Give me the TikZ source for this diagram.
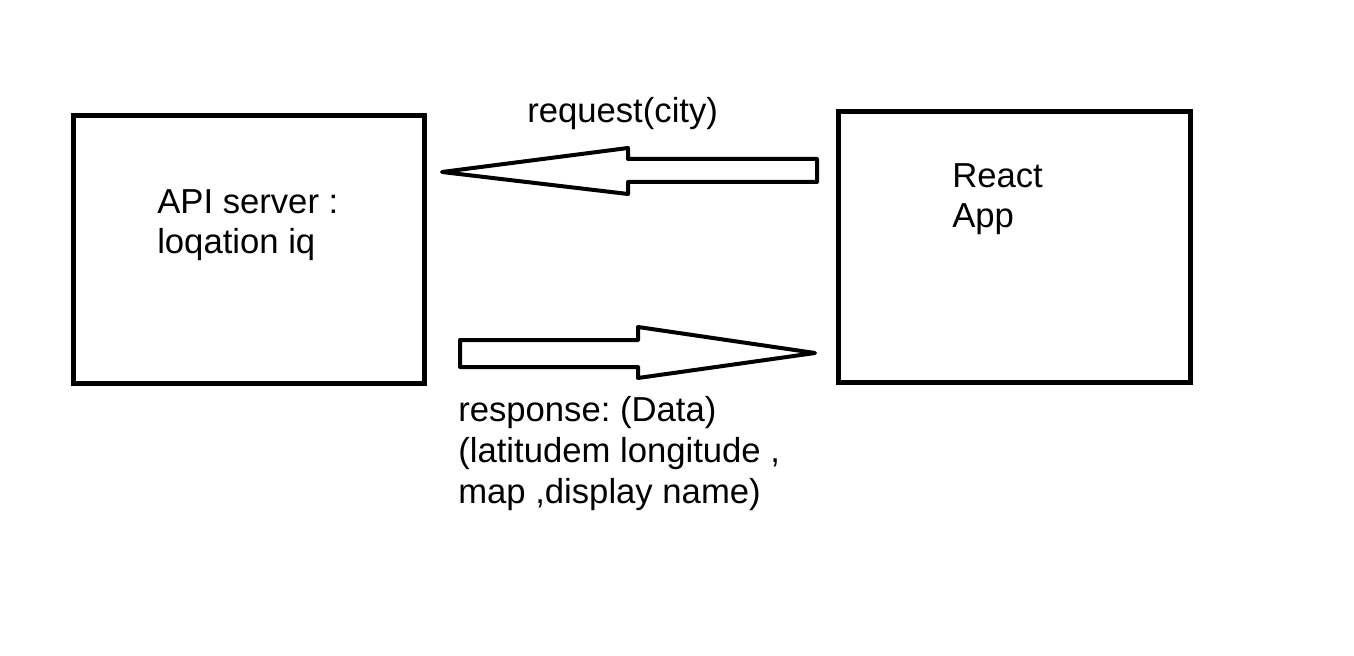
\documentclass[tikz,border=0pt]{standalone}
\usepackage{fontspec}
\setmainfont{Liberation Sans}
\frenchspacing

\begin{document}
\begin{tikzpicture}[x=0.75pt, y=-0.75pt,
  box/.style={draw, rectangle, line width=3.75pt, inner sep=0pt},
  blockarrow/.style={draw, line width=3pt, line join=round},
  label/.style={anchor=base west, align=left, inner sep=0pt, font=\fontsize{26}{30.5}\selectfont}]
\useasboundingbox (0,0) rectangle (1354,656) ;
\node(server) at (248.75, 249.5) [box, minimum width=262.9pt, minimum height=201pt] {} ; 
\node(react) at (1014, 247) [box, minimum width=264pt, minimum height=202.5pt] {} ; 
% multi-line labels sit on the baseline of their last line
\node(servername) at (157, 254) [label] {API server :\\loqation iq} ; 
\node(reactname) at (952, 228) [label] {React\\App} ; 
\node(request) at (527, 123) [label] {request(city)} ; 
\node(response) at (458, 503) [label] {response: (Data)\\(latitudem longitude ,\\map ,display name)} ; 
\coordinate(requesttip) at (442, 172) ; 
\coordinate(responsetip) at (815, 353) ; 
\draw[blockarrow] (requesttip) -- ++(186,-24) -- ++(0,11) -- ++(189,0) -- ++(0,23) -- ++(-189,0) -- ++(0,12) -- cycle ; 
\draw[blockarrow] (responsetip) -- ++(-177,-26) -- ++(0,13) -- ++(-178,0) -- ++(0,27) -- ++(178,0) -- ++(0,11) -- cycle ; 
\end{tikzpicture}
\end{document}
